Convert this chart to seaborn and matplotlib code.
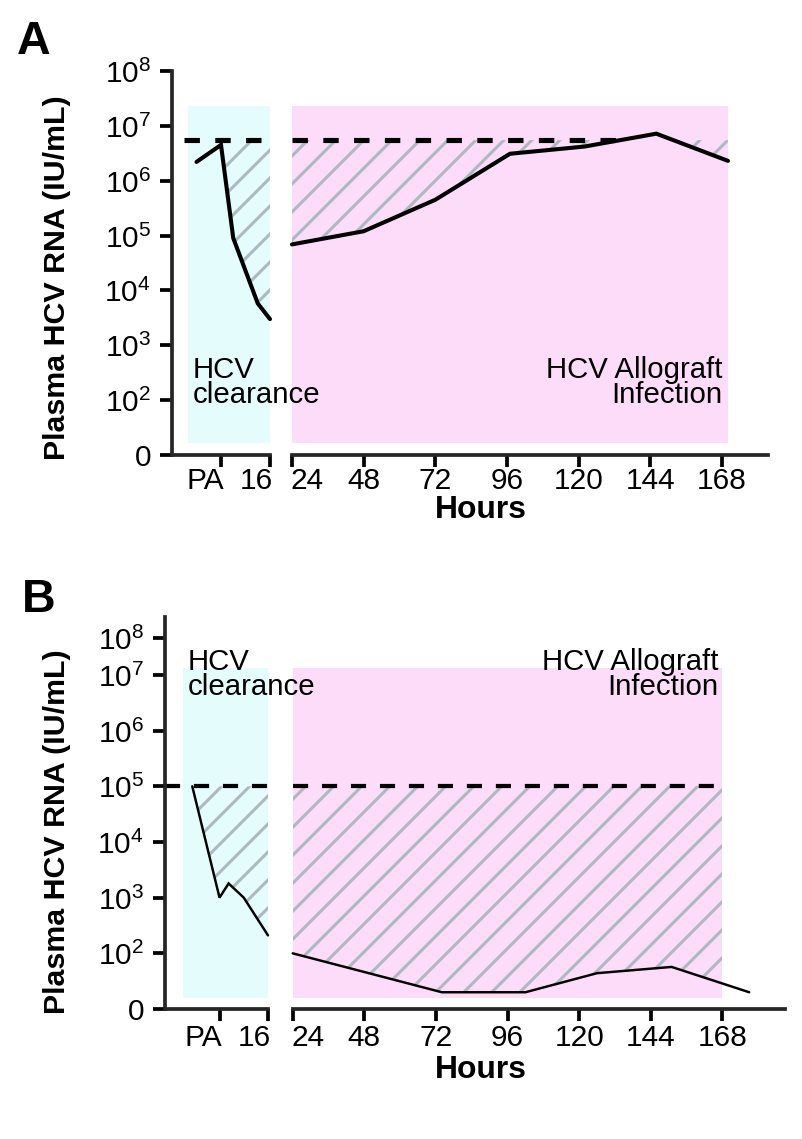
import matplotlib
matplotlib.use('Agg')
import matplotlib.pyplot as plt
import matplotlib.transforms as mtransforms
import seaborn as sns

# ---- data (hours after transplant, plasma HCV RNA IU/mL) ----
# panel A
a_early_h = [-8, 0, 4, 12, 16]
a_early_rna = [2.2e6, 4.5e6, 9e4, 5.8e3, 3e3]
a_late_h = [24, 48, 72, 97, 122, 146, 170]
a_late_rna = [6.9e4, 1.2e5, 4.5e5, 3.1e6, 4.2e6, 7.2e6, 2.3e6]
a_baseline = 5.5e6
a_base_early = [-12, 16]
a_base_late = [24, 135]
a_clear_win = [-10.8, 16]
a_infect_win = [24, 170]
a_win_rna = [16.6, 2.3e7]

# panel B
b_early_h = [-9, 0, 3, 8, 16]
b_early_rna = [1e5, 1e3, 1.8e3, 1e3, 2.1e2]
b_late_h = [24, 74, 102, 126, 151, 177]
b_late_rna = [1e2, 20, 20, 44, 57, 20]
b_baseline = 1e5
b_base_early = [-18, 16]
b_base_late = [24, 168]
b_clear_win = [-12, 16]
b_infect_win = [24, 168]
b_win_rna = [16, 1.35e7]

early_ticks = [0, 16]
early_labels = ['PA', '16']
late_ticks = [24, 48, 72, 96, 120, 144, 168]
y_ticks_a = [1e1, 1e2, 1e3, 1e4, 1e5, 1e6, 1e7, 1e8]
y_ticks_b = [1e1, 1e2, 1e3, 1e4, 1e5, 1e6, 1e7, 4.7e7]
y_labels = ['0', '$10^2$', '$10^3$', '$10^4$', '$10^5$', '$10^6$', '$10^7$', '$10^8$']

CYAN = '#e4fcfb'
PINK = '#fddcf9'
HATCH = '#adb9c0'

sns.set_style('ticks')
plt.rcParams['font.family'] = ['Liberation Sans', 'DejaVu Sans']
plt.rcParams['mathtext.fontset'] = 'custom'
plt.rcParams['mathtext.rm'] = 'Liberation Sans'
plt.rcParams['text.color'] = 'black'
plt.rcParams['hatch.linewidth'] = 1.3
plt.rcParams['hatch.color'] = HATCH

W, H = 802, 1139
DPI = 168
fig = plt.figure(figsize=(W / DPI, H / DPI), dpi=DPI)


def px_rect(l, t, r, b):
    return [l / W, 1 - b / H, (r - l) / W, (b - t) / H]


def shift(label, dx_px):
    label.set_transform(label.get_transform() + mtransforms.ScaledTranslation(
        dx_px / DPI, 0, fig.dpi_scale_trans))


def style_axis(ax, left, xpad):
    for s in ['top', 'right']:
        ax.spines[s].set_visible(False)
    ax.spines['left'].set_visible(left)
    for s in ['left', 'bottom']:
        ax.spines[s].set_linewidth(1.6)
        ax.spines[s].set_capstyle('projecting')
    ax.tick_params(axis='both', direction='out', length=5, width=1.6,
                   labelsize=12.8, color='black', labelcolor='black')
    ax.tick_params(axis='x', pad=xpad)
    ax.tick_params(axis='y', pad=4)
    ax.set_xlabel('')
    ax.set_ylabel('')
    ax.set_facecolor('none')


def draw_panel(top, bottom, e_lr, l_lr, e_xlim, l_xlim, y_top,
               e_h, e_rna, l_h, l_rna, base, base_e, base_l,
               clear_win, infect_win, win_rna, yticks,
               hatch_early_from, clip_late, lw, dash_lw, dashes, xpad):
    ax_e = fig.add_axes(px_rect(e_lr[0], top, e_lr[1], bottom))
    ax_l = fig.add_axes(px_rect(l_lr[0], top, l_lr[1], bottom))
    for ax, xl in [(ax_e, e_xlim), (ax_l, l_xlim)]:
        ax.set_yscale('log')
        ax.set_xlim(xl)
        ax.set_ylim(1e1, y_top)
        ax.minorticks_off()

    # shaded windows
    ax_e.fill_between(clear_win, win_rna[0], win_rna[1], color=CYAN,
                      linewidth=0, zorder=0)
    infect = ax_l.fill_between(infect_win, win_rna[0], win_rna[1],
                               color=PINK, linewidth=0, zorder=0)

    # hatched gap between baseline and measured load
    i0 = hatch_early_from
    ax_e.fill_between(e_h[i0:], e_rna[i0:], base, facecolor='none',
                      edgecolor=HATCH, hatch='//', linewidth=0, zorder=1)
    below = [v < base for v in l_rna]
    hl = ax_l.fill_between(l_h, l_rna, base, where=below, interpolate=True,
                           facecolor='none', edgecolor=HATCH, hatch='//',
                           linewidth=0, zorder=1)
    if clip_late:
        hl.set_clip_path(infect.get_paths()[0], infect.get_transform())

    # baseline
    ax_e.hlines(base, base_e[0], base_e[1], colors='black',
                linestyles=(0, dashes), linewidth=dash_lw, zorder=2)
    ax_l.hlines(base, base_l[0], base_l[1], colors='black',
                linestyles=(0, dashes), linewidth=dash_lw, zorder=2)

    # measured load
    sns.lineplot(x=e_h, y=e_rna, ax=ax_e, color='black', linewidth=lw,
                 zorder=3)
    sns.lineplot(x=l_h, y=l_rna, ax=ax_l, color='black', linewidth=lw,
                 zorder=3)
    for ax in (ax_e, ax_l):
        for ln in ax.lines:
            ln.set_clip_on(False)
            ln.set_solid_joinstyle('miter')

    ax_e.set_xticks(early_ticks, early_labels)
    ax_e.set_yticks(yticks, y_labels)
    ax_l.set_xticks(late_ticks, [str(t) for t in late_ticks])
    ax_l.set_yticks([])
    style_axis(ax_e, True, xpad)
    style_axis(ax_l, False, xpad)

    # the labels around the axis break sit beside their ticks
    for lab in ax_e.get_xticklabels():
        lab.set_horizontalalignment('right')
        shift(lab, 3)
    first = ax_l.get_xticklabels()[0]
    first.set_horizontalalignment('left')
    shift(first, -1)
    return ax_e, ax_l


# ---- panel A ----
draw_panel(71, 455, (172, 270), (292, 768), (-16, 16), (24, 183.4), 1e8,
           a_early_h, a_early_rna, a_late_h, a_late_rna, a_baseline,
           a_base_early, a_base_late, a_clear_win, a_infect_win, a_win_rna,
           y_ticks_a, 1, False, 1.75, 2.2, (3, 3), 0.2)

# ---- panel B ----
draw_panel(617, 1009, (165, 268), (292.7, 785), (-18, 16), (24, 189), 1.1e8,
           b_early_h, b_early_rna, b_late_h, b_late_rna, b_baseline,
           b_base_early, b_base_late, b_clear_win, b_infect_win, b_win_rna,
           y_ticks_b, 0, True, 1.05, 1.8, (3.6, 3.3), 1.6)


def ftext(x, y, s, **kw):
    fig.text(x / W, 1 - y / H, s, **kw)


ann = dict(fontsize=12.6, linespacing=0.88, va='baseline')
ftext(193, 403, 'HCV\nclearance', ha='left', **ann)
ftext(722, 403, 'HCV Allograft\nInfection', ha='right', multialignment='right', **ann)
ftext(188, 695, 'HCV\nclearance', ha='left', **ann)
ftext(718, 695, 'HCV Allograft\nInfection', ha='right', multialignment='right', **ann)

ylab = dict(fontsize=13, fontweight='bold', rotation=90, ha='center', va='center')
ftext(57, 278, 'Plasma HCV RNA (IU/mL)', **ylab)
ftext(57, 832, 'Plasma HCV RNA (IU/mL)', **ylab)

ftext(481, 518, 'Hours', fontsize=13.6, fontweight='bold', ha='center', va='baseline')
ftext(481, 1078, 'Hours', fontsize=13.6, fontweight='bold', ha='center', va='baseline')

ftext(17, 54, 'A', fontsize=20, fontweight='bold', ha='left', va='baseline')
ftext(22, 612, 'B', fontsize=20, fontweight='bold', ha='left', va='baseline')

fig.savefig('out.png', dpi=DPI, facecolor='white')
